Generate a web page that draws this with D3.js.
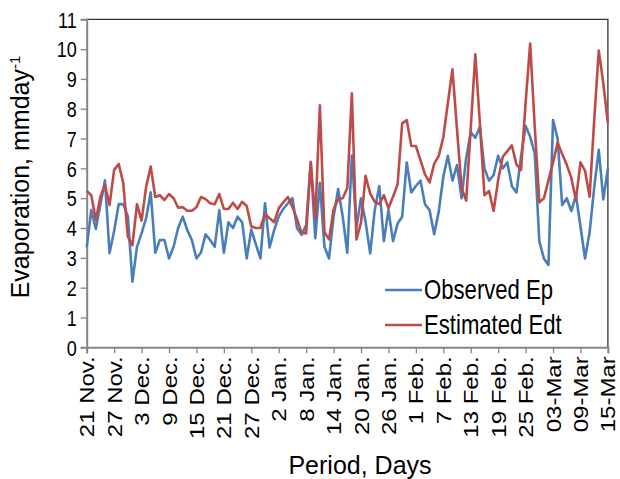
<!DOCTYPE html>
<html>
<head>
<meta charset="utf-8">
<script src="https://cdn.jsdelivr.net/npm/d3@7"></script>
<style>
  body { margin: 0; background: #fff; }
  svg text { font-family: "Liberation Sans", Arial, sans-serif; fill: #000; }
</style>
</head>
<body>
<div class="chart"></div>
<script>
// ------------------------------------------------------
const width = 620;
const height = 479;
const margin = { top: 19.3, right: 12.1, bottom: 131.7, left: 86.7 };
// ------------------------------------------------------
const tickLabels = [ '21 Nov.', '27 Nov.', '3 Dec.', '9 Dec.', '15 Dec.', '21 Dec.', '27 Dec.',
    '2 Jan.', '8 Jan.', '14 Jan.', '20 Jan.', '26 Jan.', '1 Feb.', '7 Feb.', '13 Feb.',
    '19 Feb.', '25 Feb.', '03-Mar', '09-Mar', '15-Mar' ];
const seriesNames = [ 'Observed Ep', 'Estimated Edt' ];
const observed = [
    3.35, 4.6, 3.97, 4.8, 5.6, 3.16, 3.9, 4.8, 4.8, 4.4,
    2.2, 3.37, 3.82, 4.33, 5.2, 3.17, 3.6, 3.6, 2.98, 3.37,
    4.0, 4.38, 3.93, 3.6, 2.98, 3.18, 3.79, 3.6, 3.37, 4.6,
    3.17, 4.19, 4.0, 4.38, 4.19, 2.98, 3.95, 3.45, 2.98, 4.83,
    3.35, 3.93, 4.38, 4.64, 4.83, 5.0, 4.0, 3.77, 4.1, 6.22,
    3.66, 5.52, 3.37, 2.98, 4.38, 5.31, 4.38, 3.17, 6.43, 4.02,
    5.0, 4.2, 3.15, 4.6, 5.41, 3.56, 4.6, 3.56, 4.15, 4.38,
    6.2, 5.19, 5.41, 5.59, 4.8, 4.6, 3.79, 4.55, 5.72, 6.42,
    5.59, 6.11, 5.0, 6.35, 7.21, 7.03, 7.4, 6.0, 5.59, 5.78,
    6.42, 6.0, 6.2, 5.4, 5.19, 6.4, 7.42, 7.06, 6.5, 3.56,
    2.98, 2.76, 7.62, 7.0, 4.77, 5.0, 4.57, 5.1, 4.05, 2.98,
    3.86, 5.35, 6.62, 4.96, 6.0
];
const estimated = [
    5.24, 5.1, 4.27, 5.05, 5.44, 4.77, 5.95, 6.15, 5.5, 3.71,
    3.43, 4.8, 4.25, 5.38, 6.06, 5.04, 5.1, 4.94, 5.14, 5.0,
    4.68, 4.7, 4.58, 4.58, 4.7, 5.04, 4.97, 4.83, 4.8, 5.14,
    4.64, 4.64, 4.85, 4.64, 4.88, 4.74, 4.05, 4.0, 4.0, 4.47,
    4.33, 4.2, 4.66, 4.86, 5.04, 4.7, 4.3, 3.84, 3.82, 6.2,
    4.33, 8.12, 3.86, 3.62, 4.62, 4.97, 5.0, 5.34, 8.52, 3.62,
    4.18, 5.75, 5.16, 4.88, 4.8, 5.1, 4.66, 5.05, 5.46, 7.51,
    7.62, 6.75, 6.75, 6.28, 5.8, 5.53, 6.15, 6.42, 7.04, 8.2,
    9.32, 7.3, 5.34, 4.92, 7.35, 9.83, 7.5, 5.1, 5.24, 4.57,
    5.61, 6.39, 6.58, 6.77, 6.13, 5.95, 8.2, 10.19, 7.4, 4.86,
    5.0, 5.6, 6.2, 6.86, 6.48, 6.12, 5.68, 4.94, 6.2, 5.92,
    5.05, 7.6, 9.95, 8.85, 7.51
];
const yTicks = d3.range( 0, 12 );
const colors = [ '#4a7ebb', '#be4b48' ];
// ------------------------------------------------------
const tickStep = 6;
const narrow = 0.82;  // no Arial Narrow here, squeeze the regular face instead
const innerW = width - margin.left - margin.right;
const innerH = height - margin.top - margin.bottom;

let svg = d3.select( '.chart' )
    .append( 'svg' )
    .attr( 'width', width )
    .attr( 'height', height );

let g = svg.append( 'g' )
    .attr( 'transform', 'translate(' + margin.left + ',' + margin.top + ')' );

let x = d3.scaleLinear()
    .domain( [ 0, observed.length - 1 ] )
    .range( [ 0, innerW ] );

let y = d3.scaleLinear()
    .domain( [ 0, 11 ] )
    .range( [ innerH, 0 ] );

// plot frame (top and right)
g.append( 'path' )
    .attr( 'd', 'M0,0H' + innerW + 'V' + innerH )
    .attr( 'fill', 'none' )
    .attr( 'stroke', '#333' )
    .attr( 'stroke-width', 1.3 );

// y axis
let yAxis = g.append( 'g' )
    .call( d3.axisLeft( y ).tickValues( yTicks ).tickSize( 6 ) );
yAxis.select( '.domain' ).attr( 'stroke', '#868686' ).attr( 'stroke-width', 2 );
yAxis.selectAll( '.tick line' ).attr( 'stroke', '#868686' ).attr( 'stroke-width', 1.3 );
yAxis.selectAll( 'text' )
    .attr( 'font-size', '22px' )
    .attr( 'x', 0 )
    .attr( 'dy', '0.35em' )
    .attr( 'transform', 'translate(-10,0) scale(' + narrow + ',1)' );

// x axis
let xAxis = g.append( 'g' )
    .attr( 'transform', 'translate(0,' + innerH + ')' )
    .call( d3.axisBottom( x )
        .tickValues( d3.range( 0, observed.length, tickStep ) )
        .tickFormat( ( d, i ) => tickLabels[ i ] )
        .tickSize( 6 ) );
xAxis.select( '.domain' ).attr( 'stroke', '#868686' ).attr( 'stroke-width', 2 );
xAxis.selectAll( '.tick line' ).attr( 'stroke', '#868686' ).attr( 'stroke-width', 1.3 );
xAxis.selectAll( 'text' )
    .attr( 'font-size', '24px' )
    .attr( 'transform', 'rotate(-90) scale(1,0.84)' )
    .attr( 'text-anchor', 'end' )
    .attr( 'x', -9 )
    .attr( 'y', 0 )
    .attr( 'dy', '0.35em' );

// lines
let line = d3.line()
    .x( ( d, i ) => x( i ) )
    .y( d => y( d ) );

[ observed, estimated ].forEach( ( s, k ) => {
    g.append( 'path' )
        .datum( s )
        .attr( 'd', line )
        .attr( 'fill', 'none' )
        .attr( 'stroke', colors[ k ] )
        .attr( 'stroke-width', 2.6 )
        .attr( 'stroke-linejoin', 'round' );
});

// legend
let legend = svg.append( 'g' )
    .attr( 'transform', 'translate(385,290)' );
seriesNames.forEach( ( name, k ) => {
    let row = legend.append( 'g' ).attr( 'transform', 'translate(0,' + k * 35 + ')' );
    row.append( 'line' )
        .attr( 'x1', 0 ).attr( 'x2', 37 )
        .attr( 'stroke', colors[ k ] )
        .attr( 'stroke-width', 2.6 );
    row.append( 'text' )
        .attr( 'transform', 'translate(39,0) scale(' + narrow + ',1)' )
        .attr( 'dy', '0.35em' )
        .attr( 'font-size', '27px' )
        .text( name );
});

// axis titles
svg.append( 'text' )
    .attr( 'x', 360 )
    .attr( 'y', 474 )
    .attr( 'text-anchor', 'middle' )
    .attr( 'font-size', '25px' )
    .text( 'Period, Days' );

let yTitle = svg.append( 'text' )
    .attr( 'transform', 'translate(29,177) rotate(-90)' )
    .attr( 'text-anchor', 'middle' )
    .attr( 'font-size', '25px' );
yTitle.append( 'tspan' ).text( 'Evaporation, mmday' );
yTitle.append( 'tspan' )
    .attr( 'font-size', '15px' )
    .attr( 'dy', '-9' )
    .text( '-1' );
</script>
</body>
</html>
